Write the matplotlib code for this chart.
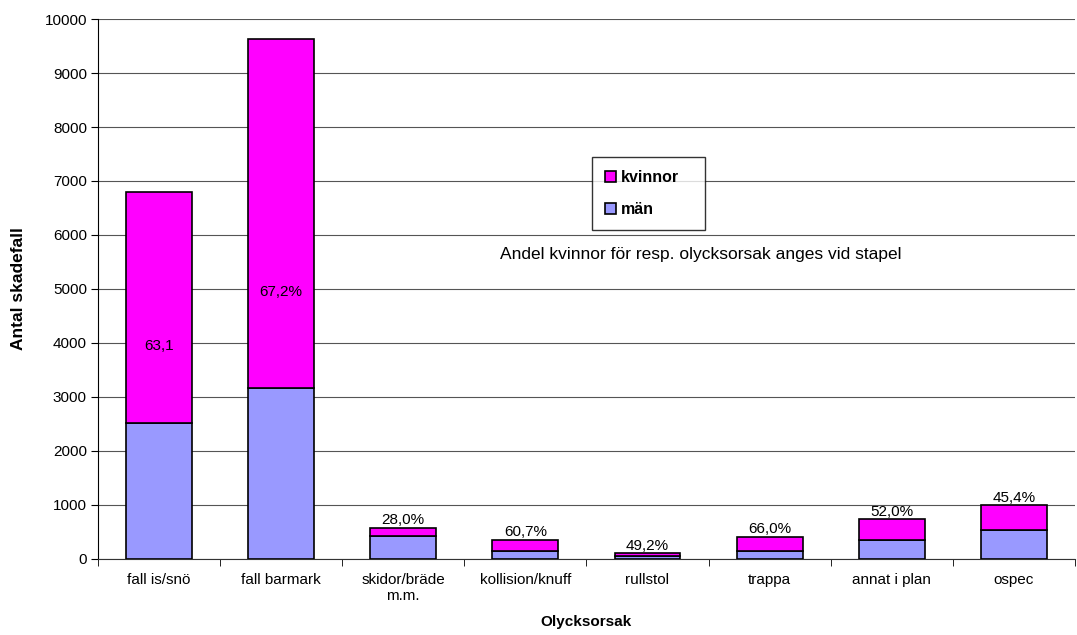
import matplotlib
matplotlib.use('Agg')
import matplotlib.pyplot as plt
import numpy as np

plt.rcParams['font.family'] = ['Liberation Sans', 'DejaVu Sans']

# olycksorsaker och antal skadefall per kön
orsaker = ['fall is/snö', 'fall barmark', 'skidor/bräde\nm.m.', 'kollision/knuff',
           'rullstol', 'trappa', 'annat i plan', 'ospec']
man = [2510, 3160, 414, 138, 53, 139, 350, 541]
kvinnor = [4290, 6470, 161, 212, 52, 271, 380, 449]
andel_txt = ['63,1', '67,2%', '28,0%', '60,7%', '49,2%', '66,0%', '52,0%', '45,4%']

MAGENTA = '#FF00FF'
LILA = '#9999FF'

fig = plt.figure(figsize=(10.77, 6.35), dpi=100)
ax = fig.add_axes([0.091, 0.12, 0.907, 0.85])

x = np.arange(len(orsaker))
w = 0.54
ax.bar(x, man, w, color=LILA, edgecolor='black', linewidth=1.2, label='män', zorder=3)
ax.bar(x, kvinnor, w, bottom=man, color=MAGENTA, edgecolor='black', linewidth=1.2,
       label='kvinnor', zorder=3)

# andel kvinnor: inne i de höga staplarna, ovanför de låga
tot = [m + k for m, k in zip(man, kvinnor)]
for i, t in enumerate(andel_txt):
    if i == 0:
        ax.text(x[i], 3950, t, ha='center', va='center', fontsize=11, zorder=4)
    elif i == 1:
        ax.text(x[i], 4940, t, ha='center', va='center', fontsize=11, zorder=4)
    else:
        ax.text(x[i], tot[i] + 10, t, ha='center', va='bottom', fontsize=11)

ax.set_xlim(-0.5, len(orsaker) - 0.5)
ax.set_ylim(0, 10000)
ax.set_yticks(np.arange(0, 10001, 1000))
ax.yaxis.grid(True, color='#555555', linewidth=0.8, zorder=0)
ax.set_axisbelow(True)

ax.set_xticks(x)
ax.set_xticklabels(orsaker, fontsize=11)
ax.set_xticks(np.arange(-0.5, len(orsaker)), minor=True)
ax.tick_params(axis='x', which='major', length=0, pad=10)
ax.tick_params(axis='x', which='minor', length=5, direction='out')
ax.tick_params(axis='y', labelsize=11, length=5, direction='out', pad=3)

for s in ['top', 'right']:
    ax.spines[s].set_visible(False)
ax.spines['left'].set_color('black')
ax.spines['bottom'].set_color('#333333')

ax.set_xlabel('Olycksorsak', fontsize=11, fontweight='bold', labelpad=9)
ax.set_ylabel('Antal skadefall', fontsize=12.5, fontweight='bold', labelpad=13)

# förklaringsruta med fast bredd
h, l = ax.get_legend_handles_labels()
leg = ax.legend(h[::-1], l[::-1], loc='upper left', mode='expand',
                bbox_to_anchor=(0.5056, 0.744, 0.1154, 0.0),
                prop={'weight': 'bold', 'size': 11.5}, frameon=True, fancybox=False,
                edgecolor='black', handlelength=0.7, handleheight=0.7,
                labelspacing=1.05, borderpad=0.8, handletextpad=0.3, borderaxespad=0)
leg.get_frame().set_linewidth(1)

ax.text(0.617, 0.563, 'Andel kvinnor för resp. olycksorsak anges vid stapel',
        transform=ax.transAxes, ha='center', va='center', fontsize=12.5)

fig.savefig('out.png', dpi=100, facecolor='white')
